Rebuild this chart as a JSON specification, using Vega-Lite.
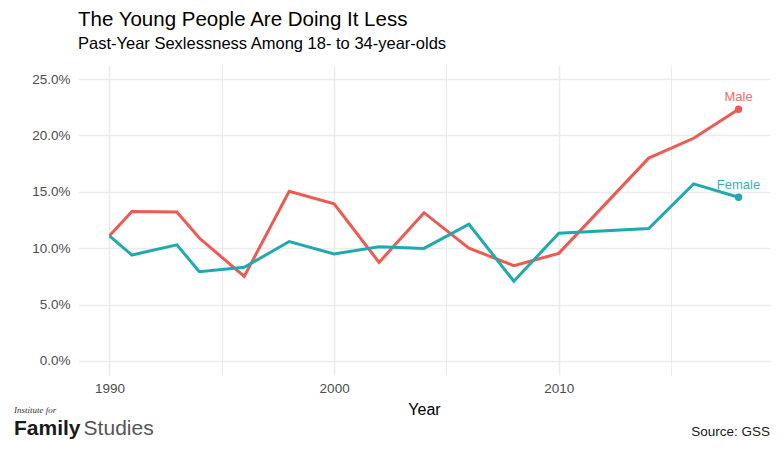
{
  "$schema": "https://vega.github.io/schema/vega-lite/v6.json",
  "width": 692,
  "height": 310,
  "autosize": {"type": "none"},
  "padding": {"left": 78, "top": 65, "right": 13, "bottom": 76},
  "background": "white",
  "config": {
    "font": "Liberation Sans",
    "view": {"stroke": null},
    "axis": {"domain": false, "ticks": false, "labelFont": "Liberation Sans", "titleFont": "Liberation Sans"}
  },
  "title": {
    "text": "The Young People Are Doing It Less",
    "subtitle": "Past-Year Sexlessness Among 18- to 34-year-olds",
    "anchor": "start",
    "frame": "group",
    "font": "Liberation Sans",
    "fontSize": 20.5,
    "fontWeight": "normal",
    "color": "#000000",
    "subtitleFont": "Liberation Sans",
    "subtitleFontSize": 16.5,
    "subtitleColor": "#000000",
    "subtitlePadding": 5,
    "offset": 13
  },
  "layer": [
    {
      "data": {"name": "series"},
      "mark": {"type": "line", "strokeWidth": 3},
      "encoding": {
        "x": {
          "field": "year", "type": "quantitative",
          "scale": {"domain": [1988.6, 2019.4], "nice": false, "zero": false},
          "axis": {
            "title": "Year",
            "titleFontSize": 16, "titleFontWeight": "normal", "titleColor": "#000000", "titlePadding": 7,
            "values": [1990, 1995, 2000, 2005, 2010, 2015],
            "labelExpr": "datum.value % 10 == 0 ? datum.value : ''",
            "labelFontSize": 13.5, "labelColor": "#4D4D4D", "labelPadding": 6,
            "gridColor": "#EBEBEB",
            "gridWidth": {"condition": {"test": "datum.value % 10 == 0", "value": 1.6}, "value": 1}
          }
        },
        "y": {
          "field": "pct", "type": "quantitative",
          "scale": {"domain": [-1.25, 26.25], "nice": false, "zero": false},
          "axis": {
            "title": null,
            "values": [0, 2.5, 5, 7.5, 10, 12.5, 15, 17.5, 20, 22.5, 25],
            "labelExpr": "datum.value % 5 == 0 ? format(datum.value, '.1f') + '%' : ''",
            "labelFontSize": 13.5, "labelColor": "#4D4D4D", "labelPadding": 8,
            "gridColor": "#EBEBEB",
            "gridWidth": {"condition": {"test": "datum.value % 5 == 0", "value": 1.6}, "value": 1}
          }
        },
        "color": {
          "field": "sex", "type": "nominal",
          "scale": {"domain": ["Male", "Female"], "range": ["#EE5A52", "#1EAAAE"]},
          "legend": null
        }
      }
    },
    {
      "data": {"name": "series"},
      "transform": [{"filter": "datum.year == 2018"}],
      "mark": {"type": "point", "filled": true, "size": 55, "opacity": 1},
      "encoding": {
        "x": {"field": "year", "type": "quantitative"},
        "y": {"field": "pct", "type": "quantitative"},
        "color": {"field": "sex", "type": "nominal", "legend": null}
      }
    },
    {
      "data": {"name": "series"},
      "transform": [{"filter": "datum.year == 2018"}],
      "mark": {"type": "text", "dy": -5, "fontSize": 13, "align": "center", "baseline": "bottom", "opacity": 0.9},
      "encoding": {
        "x": {"field": "year", "type": "quantitative"},
        "y": {"field": "pct", "type": "quantitative"},
        "text": {"field": "sex"},
        "color": {"field": "sex", "type": "nominal", "legend": null}
      }
    },
    {
      "data": {"values": [{"label": "Source: GSS"}]},
      "mark": {"type": "text", "align": "right", "baseline": "alphabetic", "fontSize": 13.5, "color": "#1A1A1A", "clip": false},
      "encoding": {
        "x": {"datum": 2019.4, "type": "quantitative"},
        "y": {"datum": -6.7, "type": "quantitative"},
        "text": {"field": "label"}
      }
    },
    {
      "data": {"values": [{"label": "Family"}]},
      "mark": {"type": "text", "align": "left", "baseline": "alphabetic", "fontSize": 21, "fontWeight": "bold", "color": "#1A1A1A"},
      "encoding": {
        "x": {"datum": 1985.75, "type": "quantitative"},
        "y": {"datum": -6.6, "type": "quantitative"},
        "text": {"field": "label"}
      }
    },
    {
      "data": {"values": [{"label": "Studies"}]},
      "mark": {"type": "text", "align": "left", "baseline": "alphabetic", "fontSize": 21, "fontWeight": "normal", "color": "#555555"},
      "encoding": {
        "x": {"datum": 1988.85, "type": "quantitative"},
        "y": {"datum": -6.6, "type": "quantitative"},
        "text": {"field": "label"}
      }
    },
    {
      "data": {"values": [{"label": "Institute for"}]},
      "mark": {"type": "text", "align": "left", "baseline": "alphabetic", "fontSize": 9, "font": "Liberation Serif", "fontStyle": "italic", "color": "#333333"},
      "encoding": {
        "x": {"datum": 1985.75, "type": "quantitative"},
        "y": {"datum": -4.6, "type": "quantitative"},
        "text": {"field": "label"}
      }
    }
  ],
  "datasets": {
    "series": [
      {"year": 1990, "sex": "Male", "pct": 11.1},
      {"year": 1991, "sex": "Male", "pct": 13.26},
      {"year": 1993, "sex": "Male", "pct": 13.2},
      {"year": 1994, "sex": "Male", "pct": 10.9},
      {"year": 1996, "sex": "Male", "pct": 7.5},
      {"year": 1998, "sex": "Male", "pct": 15.05},
      {"year": 2000, "sex": "Male", "pct": 13.94},
      {"year": 2002, "sex": "Male", "pct": 8.74},
      {"year": 2004, "sex": "Male", "pct": 13.15},
      {"year": 2006, "sex": "Male", "pct": 10.0},
      {"year": 2008, "sex": "Male", "pct": 8.45},
      {"year": 2010, "sex": "Male", "pct": 9.54},
      {"year": 2014, "sex": "Male", "pct": 17.99},
      {"year": 2016, "sex": "Male", "pct": 19.75},
      {"year": 2018, "sex": "Male", "pct": 22.33},
      {"year": 1990, "sex": "Female", "pct": 11.1},
      {"year": 1991, "sex": "Female", "pct": 9.39},
      {"year": 1993, "sex": "Female", "pct": 10.3},
      {"year": 1994, "sex": "Female", "pct": 7.92},
      {"year": 1996, "sex": "Female", "pct": 8.3},
      {"year": 1998, "sex": "Female", "pct": 10.59},
      {"year": 2000, "sex": "Female", "pct": 9.48},
      {"year": 2002, "sex": "Female", "pct": 10.12},
      {"year": 2004, "sex": "Female", "pct": 9.98},
      {"year": 2006, "sex": "Female", "pct": 12.12},
      {"year": 2008, "sex": "Female", "pct": 7.07},
      {"year": 2010, "sex": "Female", "pct": 11.33},
      {"year": 2014, "sex": "Female", "pct": 11.74},
      {"year": 2016, "sex": "Female", "pct": 15.7},
      {"year": 2018, "sex": "Female", "pct": 14.52}
    ]
  }
}
